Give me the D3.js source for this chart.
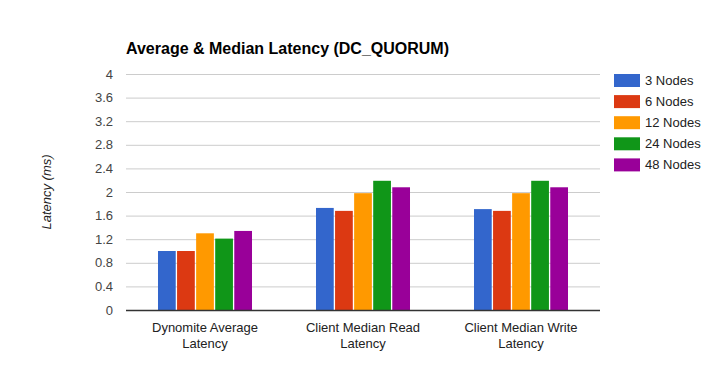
<!DOCTYPE html>
<html>
    <head>
        <meta charset="utf-8" />
        <title>Average & Median Latency</title>
        <script src="https://d3js.org/d3.v7.min.js"></script>
        <style>
            body {
                margin: 0px;
                background: #fff;
            }
            text {
                font-family: Arial, "Liberation Sans", sans-serif;
            }
        </style>
    </head>
    <body>
        <svg id="chart"></svg>
        <script>

        // data
        var categories = [
            ["Dynomite Average", "Latency"],
            ["Client Median Read", "Latency"],
            ["Client Median Write", "Latency"]
        ];
        var seriesNames = ["3 Nodes", "6 Nodes", "12 Nodes", "24 Nodes", "48 Nodes"];
        var nodes3 = [1.0, 1.73, 1.71];
        var nodes6 = [1.0, 1.68, 1.68];
        var nodes12 = [1.3, 1.98, 1.98];
        var nodes24 = [1.21, 2.19, 2.19];
        var nodes48 = [1.34, 2.08, 2.08];
        var yTicks = [0, 0.4, 0.8, 1.2, 1.6, 2, 2.4, 2.8, 3.2, 3.6, 4];

        var series = [nodes3, nodes6, nodes12, nodes24, nodes48];
        var colors = ["#3366cc", "#dc3912", "#ff9900", "#109618", "#990099"];

        var width = 726;
        var height = 384;
        var plot = { left: 126, right: 600, top: 74, bottom: 310 };

        var svg = d3.select("#chart")
            .attr("width", width)
            .attr("height", height);

        var x0 = d3.scaleBand()
            .domain(d3.range(categories.length))
            .range([plot.left, plot.right])
            .paddingInner(0.405)
            .paddingOuter(0.2025);

        var x1 = d3.scaleBand()
            .domain(d3.range(series.length))
            .range([0, x0.bandwidth()])
            .paddingInner(0.07);

        var y = d3.scaleLinear()
            .domain([0, 4])
            .range([plot.bottom, plot.top]);

        // title
        svg.append("text")
            .attr("x", 126)
            .attr("y", 54)
            .style("font-size", "16px")
            .style("font-weight", "bold")
            .attr("fill", "#000")
            .text("Average & Median Latency (DC_QUORUM)");

        // gridlines + y labels
        var yAxis = d3.axisLeft(y)
            .tickValues(yTicks)
            .tickSize(-(plot.right - plot.left))
            .tickPadding(13)
            .tickFormat(function(d) { return d; });

        var yg = svg.append("g")
            .attr("transform", "translate(" + plot.left + ",0)")
            .call(yAxis);
        yg.select(".domain").remove();
        yg.selectAll(".tick line").attr("stroke", "#cccccc");
        yg.selectAll(".tick text")
            .attr("fill", "#444")
            .style("font-size", "13px")
            .style("font-family", "Arial, 'Liberation Sans', sans-serif");

        // y title
        svg.append("text")
            .attr("transform", "translate(51," + ((plot.top + plot.bottom) / 2) + ") rotate(-90)")
            .attr("text-anchor", "middle")
            .style("font-size", "13px")
            .style("font-style", "italic")
            .attr("fill", "#222")
            .text("Latency (ms)");

        // bars
        var groups = svg.append("g").selectAll("g")
            .data(categories)
            .join("g")
            .attr("transform", function(d, i) { return "translate(" + x0(i) + ",0)"; });

        groups.selectAll("rect")
            .data(function(d, i) {
                return series.map(function(s, j) { return { s: j, v: s[i] }; });
            })
            .join("rect")
            .attr("x", function(d) { return x1(d.s); })
            .attr("width", x1.bandwidth())
            .attr("y", function(d) { return y(d.v); })
            .attr("height", function(d) { return y(0) - y(d.v); })
            .attr("fill", function(d) { return colors[d.s]; });

        // baseline
        svg.append("line")
            .attr("x1", plot.left)
            .attr("x2", plot.right)
            .attr("y1", y(0) + 0.5)
            .attr("y2", y(0) + 0.5)
            .attr("stroke", "#333")
            .attr("stroke-width", 1.5);

        // category labels
        var catLabels = svg.append("g").selectAll("text")
            .data(categories)
            .join("text")
            .attr("text-anchor", "middle")
            .attr("x", function(d, i) { return x0(i) + x0.bandwidth() / 2; })
            .attr("y", 332)
            .attr("fill", "#222")
            .style("font-size", "13px");
        catLabels.selectAll("tspan")
            .data(function(d) { return d; })
            .join("tspan")
            .attr("x", function() { return d3.select(this.parentNode).attr("x"); })
            .attr("dy", function(d, i) { return i === 0 ? 0 : 16; })
            .text(function(d) { return d; });

        // legend
        var legend = svg.append("g").selectAll("g")
            .data(seriesNames)
            .join("g")
            .attr("transform", function(d, i) { return "translate(614," + (74 + i * 21.1) + ")"; });
        legend.append("rect")
            .attr("width", 26)
            .attr("height", 13)
            .attr("fill", function(d, i) { return colors[i]; });
        legend.append("text")
            .attr("x", 31)
            .attr("y", 11)
            .attr("fill", "#222")
            .style("font-size", "13px")
            .text(function(d) { return d; });

        </script>
    </body>
</html>
